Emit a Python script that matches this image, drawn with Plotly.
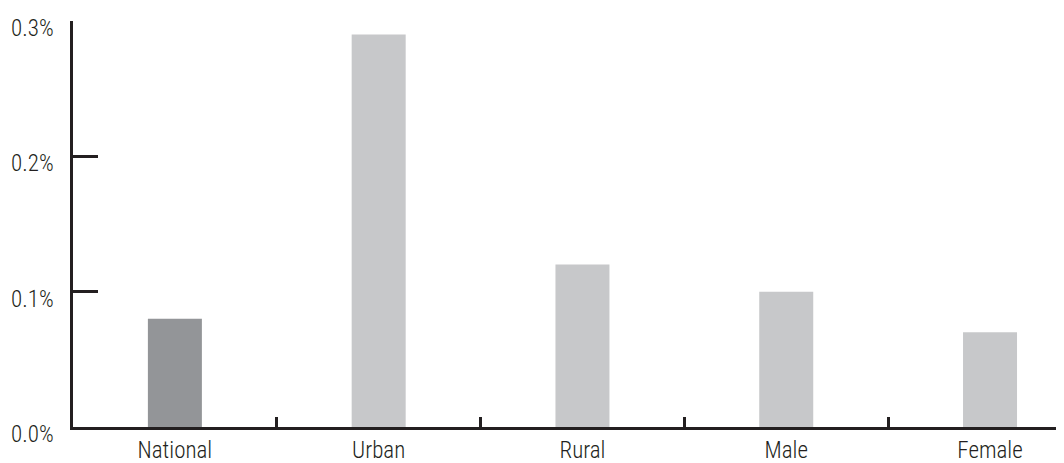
import plotly.graph_objects as go

categories = ["National", "Urban", "Rural", "Male", "Female"]
values = [0.08, 0.29, 0.12, 0.10, 0.07]
bar_colors = ["#939598", "#c7c8ca", "#c7c8ca", "#c7c8ca", "#c7c8ca"]
y_ticks = [0.0, 0.1, 0.2, 0.3]
y_tick_labels = ["0.0%", "0.1%", "0.2%", "0.3%"]

ink = "#231f20"
font = dict(family="Roboto Condensed, Arial Narrow, sans-serif", size=23, color=ink, weight=350)

fig = go.Figure(
    go.Bar(x=categories, y=values, marker=dict(color=bar_colors, line=dict(width=0)),
           width=0.265, hoverinfo="skip")
)

# page body has an 8px margin, so the figure is 8px smaller each way
fig.update_layout(
    width=1056, height=455,
    margin=dict(l=65, r=0, t=13, b=36, autoexpand=False),
    paper_bgcolor="white", plot_bgcolor="white",
    font=font, showlegend=False,
    xaxis=dict(
        type="category", range=[-0.5, 4.363], tickson="boundaries",
        ticks="inside", ticklen=10, tickwidth=2.5, tickcolor=ink,
        showline=True, linecolor=ink, linewidth=2.5, showgrid=False, zeroline=False,
        tickfont=font, automargin=False, ticklabelstandoff=1,
    ),
    yaxis=dict(
        range=[0, 0.3], tickvals=y_ticks, ticktext=y_tick_labels,
        ticks="inside", ticklen=25, tickwidth=2.5, tickcolor=ink,
        showline=True, linecolor=ink, linewidth=2.5, showgrid=False, zeroline=False,
        tickfont=font, automargin=False, ticklabelshift=7, ticklabelstandoff=12,
    ),
)

fig.write_html("out.html")
